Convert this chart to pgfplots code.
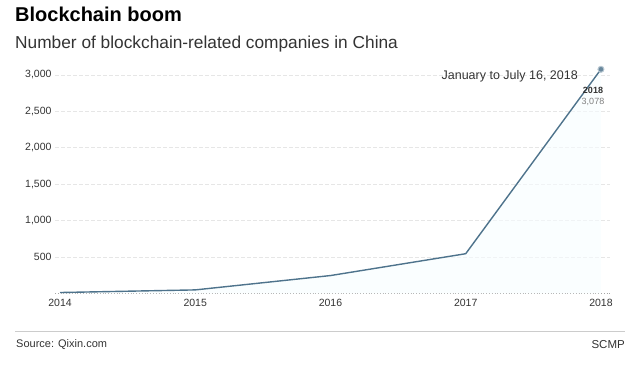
\documentclass[border=0pt]{standalone}
\usepackage{pgfplots}
\pgfplotsset{compat=1.18}
\usepackage{fontspec}
\setmainfont{Liberation Sans}
\definecolor{linec}{HTML}{4E738C}
\definecolor{txt}{HTML}{333333}
\definecolor{gridc}{HTML}{E6E6E6}
\begin{document}
\begin{tikzpicture}[x=1pt,y=1pt]
\path[use as bounding box] (0,0) rectangle (641,369);
\node[anchor=west,font=\bfseries\fontsize{20}{23}\selectfont,text=black,inner sep=0] at (15,355) {Blockchain boom};
\node[anchor=west,font=\fontsize{17.3}{20}\selectfont,text=txt,inner sep=0] at (15,325) {Number of blockchain-related companies in China};
\begin{axis}[at={(55pt,75.6pt)}, anchor=south west, width=555pt, height=225.7pt, scale only axis,
  xmin=2013.963, xmax=2018.067, ymin=0, ymax=3100,
  axis line style={draw=none}, major tick length=0pt,
  xtick={2014,2015,2016,2017,2018}, ytick={500,1000,1500,2000,2500,3000},
  ymajorgrids, grid style={gridc, dash pattern=on 4pt off 2pt, line width=0.6pt},
  /pgf/number format/assume math mode=true,
  x tick label style={/pgf/number format/1000 sep={}, font=\fontsize{10.5}{12}\selectfont, text=txt, yshift=-2pt},
  y tick label style={/pgf/number format/1000 sep={,}, font=\fontsize{10.5}{12}\selectfont, text=txt},
  clip=false]
\draw[gray!70, dotted, line width=0.8pt] (axis cs:2013.963,0) -- (axis cs:2018.067,0);
\addplot[draw=none, fill=cyan!3, fill opacity=0.6] coordinates {(2014,0) (2014,12) (2015,48) (2016,245) (2017,545) (2018,3078) (2018,0)} \closedcycle;
\addplot[linec, line width=1.4pt, line join=round] coordinates {(2014,12) (2015,48) (2016,245) (2017,545) (2018,3078)};
\addplot[only marks, mark=*, mark size=3pt, mark options={fill=linec!85, draw=linec!40, line width=1pt}] coordinates {(2018,3078)};
\end{axis}
\node[anchor=east,font=\fontsize{12.5}{14}\selectfont,text=txt,inner sep=0] at (578,293) {January to July 16, 2018};
\node[font=\bfseries\fontsize{9}{10}\selectfont,text=txt,inner sep=0] at (593,279) {2018};
\node[font=\fontsize{9}{10}\selectfont,text=gray,inner sep=0] at (593,267) {3,078};
\draw[gray!40, line width=0.8pt] (15,38) -- (625,38);
\node[anchor=west,font=\fontsize{11}{13}\selectfont,text=txt,inner sep=0] at (16,24) {Source: Qixin.com};
\node[anchor=east,font=\fontsize{11.5}{13}\selectfont,text=txt,inner sep=0] at (625,24) {SCMP};
\end{tikzpicture}
\end{document}
